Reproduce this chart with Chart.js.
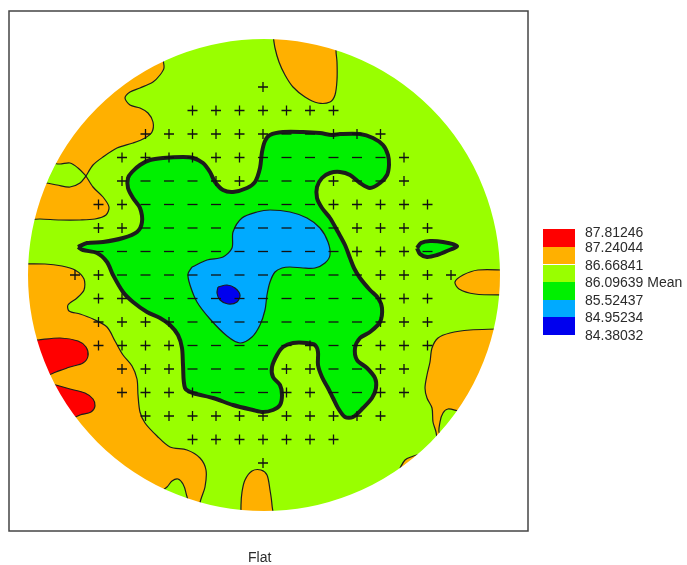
<!DOCTYPE html>
<html lang="en">
<head>
    <meta charset="UTF-8">
    <title>Flat</title>
    <script src="https://cdn.jsdelivr.net/npm/chart.js@4"></script>
    <style>
        body {
            margin: 0;
            background: #fff;
            font-family: "Liberation Sans", Arial, sans-serif;
        }

        #wrap {
            position: relative;
            width: 687px;
            height: 565px;
        }

        #map {
            position: absolute;
            left: 0;
            top: 0;
        }

        .sw {
            position: absolute;
            left: 543px;
            width: 32px;
        }

        .lab,
        #flat {
            position: absolute;
            font-size: 14px;
            line-height: 16px;
            color: #2b2b2b;
            white-space: nowrap;
        }

        .lab {
            left: 585px;
        }

        #flat {
            left: 248px;
            top: 549px;
        }
    </style>
</head>

<body>
    <div id="wrap">
        <canvas id="map" width="687" height="565"></canvas>
        <div id="legend"></div>
        <div id="flat">Flat</div>
    </div>

    <script>
        // legend bands, top to bottom
        const legendLabels = ["87.81246", "87.24044", "86.66841", "86.09639 Mean", "85.52437", "84.95234", "84.38032"];
        const legendColors = ["#ff0000", "#ffb000", "#99ff00", "#00f000", "#00aaff", "#0000ee"];

        // wafer outline (plot units)
        const waferCenter = [264, 275];
        const waferRadius = 236;

        // measurement sites: column / row positions and the sign seen at each site
        const siteX = [75, 98.5, 122, 145.5, 169, 192.5, 216, 239.5, 263, 286.5, 310, 333.5, 357, 380.5, 404, 427.5, 451];
        const siteY = [87, 110.5, 134, 157.5, 181, 204.5, 228, 251.5, 275, 298.5, 322, 345.5, 369, 392.5, 416, 439.5, 463];
        const siteRows = [
            "        +        ",
            "     +++++++     ",
            "   ++++++--+++   ",
            "  ++++++------+  ",
            "  +---++---+--+  ",
            " ++--------+++++ ",
            " ++---------++++ ",
            " -----------+++- ",
            "++-----------++++",
            " ++----------+++ ",
            " ++++--------+++ ",
            " ++++-----+--+++ ",
            "  +++----++--++  ",
            "  ++++---++--++  ",
            "   +++++++++++   ",
            "     +++++++     ",
            "        +        "
        ];

        // contour regions, outlines
        const orangeTopLeft = [[86, 176], [93, 165], [103, 157], [117, 148], [133, 143], [145, 138], [152, 132], [153, 122], [148, 113], [140, 108], [130, 105], [125, 98], [130, 92], [140, 88], [153, 82], [160, 75], [164, 68], [163, 58], [166, 15], [12, 15], [12, 162], [50, 163], [60, 164], [70, 163], [78, 168]];
        const orangeLeftMid = [[86, 176], [93, 187], [103, 197], [109, 207], [106, 215], [95, 219], [80, 220], [60, 220], [40, 219], [12, 219], [12, 183], [45, 183], [57, 185], [70, 187], [80, 183]];
        const orangeLeftLow = [[12, 264], [45, 264], [62, 266], [75, 270], [84, 279], [84, 290], [77, 298], [68, 305], [69, 311], [80, 314], [93, 319], [107, 327], [115, 341], [123, 355], [132, 366], [137, 379], [138, 395], [140, 412], [145, 423], [157, 436], [170, 447], [187, 450], [200, 458], [206, 470], [205, 487], [200, 503], [198, 540], [12, 540]];
        const orangeBottom = [[241, 530], [241, 505], [242, 492], [245, 480], [252, 471], [261, 470], [267, 475], [270, 490], [272, 505], [273, 530]];
        const orangeBottomRight = [[497, 329], [470, 330], [450, 333], [438, 338], [432, 348], [430, 362], [427, 375], [425, 388], [427, 398], [432, 408], [433, 422], [436, 432], [438, 444], [450, 480], [540, 480], [540, 329]];
        const orangeSliver = [[400, 468], [405, 460], [411, 457], [419, 455], [430, 470], [410, 485]];
        const orangeRight = [[505, 270], [478, 270], [463, 275], [455, 282], [459, 289], [475, 294], [505, 295], [530, 295], [530, 270]];
        const orangeTop = [[270, 15], [273, 35], [275, 48], [279, 62], [285, 75], [293, 87], [305, 97], [318, 103], [330, 102], [335, 95], [337, 80], [337, 62], [336, 50], [338, 15]];
        const redUpper = [[38, 340], [60, 338], [78, 341], [86, 347], [88, 356], [83, 363], [70, 367], [56, 372], [45, 376], [12, 378], [12, 338]];
        const redLower = [[56, 385], [70, 389], [85, 393], [93, 399], [95, 406], [91, 412], [80, 415], [72, 419], [40, 440], [15, 400], [20, 380]];
        const limeBottom = [[160, 492], [167, 487], [172, 481], [178, 479], [183, 484], [186, 493], [188, 508], [158, 508]];
        const limeNotch = [[458, 411], [448, 409], [443, 413], [440, 422], [440, 434], [470, 440], [470, 405]];
        const meanRegion = [[78, 247], [87, 243], [103, 242], [123, 238], [137, 232], [142, 222], [140, 208], [133, 198], [128, 188], [128, 178], [132, 172], [140, 165], [150, 160], [163, 158], [183, 157], [193, 158], [203, 163], [210, 172], [215, 182], [223, 190], [233, 192], [247, 188], [255, 182], [260, 168], [262, 152], [265, 141], [270, 135], [283, 132], [303, 132], [320, 133], [332, 135], [340, 134], [360, 134], [373, 138], [383, 145], [388, 155], [389, 165], [387, 175], [380, 183], [370, 188], [360, 183], [350, 175], [340, 172], [330, 173], [322, 178], [317, 187], [317, 198], [322, 208], [330, 218], [338, 232], [345, 245], [350, 258], [354, 268], [360, 278], [370, 290], [378, 298], [382, 308], [380, 322], [370, 332], [360, 338], [355, 348], [357, 360], [367, 368], [375, 378], [376, 388], [372, 398], [363, 408], [353, 417], [345, 417], [338, 408], [333, 398], [328, 388], [322, 377], [318, 365], [318, 352], [315, 345], [307, 343], [293, 343], [283, 347], [277, 355], [272, 367], [273, 377], [280, 385], [282, 395], [280, 405], [273, 410], [263, 412], [253, 410], [233, 405], [213, 398], [193, 393], [185, 388], [183, 365], [182, 348], [178, 335], [170, 325], [160, 318], [147, 312], [133, 302], [123, 292], [113, 275], [107, 262], [97, 253], [83, 250]];
        const meanEye = [[417, 248], [421, 243], [430, 241], [443, 242], [457, 246], [447, 251], [437, 255], [427, 257], [420, 254]];
        const lowRegion = [[192, 267], [207, 260], [223, 257], [232, 248], [233, 232], [242, 218], [257, 212], [270, 210], [290, 212], [307, 218], [320, 228], [328, 242], [330, 255], [325, 263], [315, 268], [303, 268], [290, 267], [282, 268], [275, 272], [270, 282], [267, 295], [265, 310], [260, 325], [252, 337], [240, 343], [227, 336], [210, 319], [197, 302], [190, 285], [188, 274]];
        const lowestRegion = [[218, 287], [227, 285], [235, 288], [240, 295], [237, 302], [228, 304], [220, 300], [217, 293]];

        const span = (chart, d) => Math.abs(chart.scales.x.getPixelForValue(d) - chart.scales.x.getPixelForValue(0));

        function region(pts, color, width) {
            const data = pts.map(p => ({ x: p[0], y: p[1] }));
            data.push({ x: pts[0][0], y: pts[0][1] });
            return {
                data: data,
                showLine: true,
                fill: 'shape',
                backgroundColor: color,
                borderColor: '#1c1c1c',
                borderWidth: width,
                borderJoinStyle: 'round',
                tension: 0.3,
                pointRadius: 0,
                clip: 0
            };
        }

        const plus = [], minus = [];
        siteRows.forEach((row, r) => {
            for (let k = 0; k < row.length; k++) {
                if (row[k] === '+') plus.push({ x: siteX[k], y: siteY[r] });
                if (row[k] === '-') minus.push({ x: siteX[k], y: siteY[r] });
            }
        });

        const center = [{ x: waferCenter[0], y: waferCenter[1] }];

        // bottom layer first
        const layers = [
            {
                data: center, pointStyle: 'circle', clip: 0,
                pointRadius: c => span(c.chart, waferRadius) + 1,
                pointBackgroundColor: legendColors[2], pointBorderWidth: 0
            },
            region(orangeTopLeft, legendColors[1], 1.2),
            region(orangeLeftMid, legendColors[1], 1.2),
            region(orangeLeftLow, legendColors[1], 1.2),
            region(orangeBottom, legendColors[1], 1.2),
            region(orangeBottomRight, legendColors[1], 1.2),
            region(orangeSliver, legendColors[1], 1.2),
            region(orangeRight, legendColors[1], 1.2),
            region(orangeTop, legendColors[1], 1.2),
            region(redUpper, legendColors[0], 1.2),
            region(redLower, legendColors[0], 1.2),
            region(limeBottom, legendColors[2], 1.2),
            region(limeNotch, legendColors[2], 1.2),
            region(meanRegion, legendColors[3], 4),
            region(meanEye, legendColors[3], 4),
            region(lowRegion, legendColors[4], 1.2),
            region(lowestRegion, legendColors[5], 1.2),
            {
                // white ring outside the wafer
                data: center, pointStyle: 'circle', clip: 0,
                pointRadius: c => span(c.chart, waferRadius) + 80,
                pointBorderWidth: 160, pointBorderColor: '#fff', pointBackgroundColor: 'rgba(0,0,0,0)'
            },
            { data: minus, pointStyle: 'line', pointRadius: 5, pointBorderWidth: 1.3, pointBorderColor: '#111' },
            { data: plus, pointStyle: 'cross', pointRadius: 5, pointBorderWidth: 1.3, pointBorderColor: '#111' }
        ];

        const frame = {
            id: 'frame',
            afterDraw(chart) {
                const a = chart.chartArea, ctx = chart.ctx;
                ctx.save();
                ctx.strokeStyle = '#444';
                ctx.lineWidth = 1.5;
                ctx.strokeRect(a.left, a.top, a.right - a.left, a.bottom - a.top);
                ctx.restore();
            }
        };

        new Chart(document.getElementById('map'), {
            type: 'scatter',
            data: { datasets: layers.reverse() },
            options: {
                responsive: false,
                animation: false,
                events: [],
                layout: { padding: { left: 9, top: 11, right: 159, bottom: 34 } },
                scales: {
                    x: { type: 'linear', display: false, min: 9, max: 528 },
                    y: { type: 'linear', display: false, min: 11, max: 531, reverse: true }
                },
                plugins: {
                    legend: { display: false },
                    tooltip: { enabled: false }
                }
            },
            plugins: [frame]
        });

        // colour legend
        const legend = document.getElementById('legend');
        legendColors.forEach((c, i) => {
            const d = document.createElement('div');
            d.className = 'sw';
            d.style.top = (229.3 + 17.6 * i) + 'px';
            d.style.height = '17.6px';
            d.style.background = c;
            legend.appendChild(d);
        });
        legendLabels.forEach((t, i) => {
            const d = document.createElement('div');
            d.className = 'lab';
            const mid = i === 0 ? 231.7 : 229.3 + 17.6 * i;
            d.style.top = (mid - 8) + 'px';
            d.textContent = t;
            legend.appendChild(d);
        });
    </script>
</body>

</html>
